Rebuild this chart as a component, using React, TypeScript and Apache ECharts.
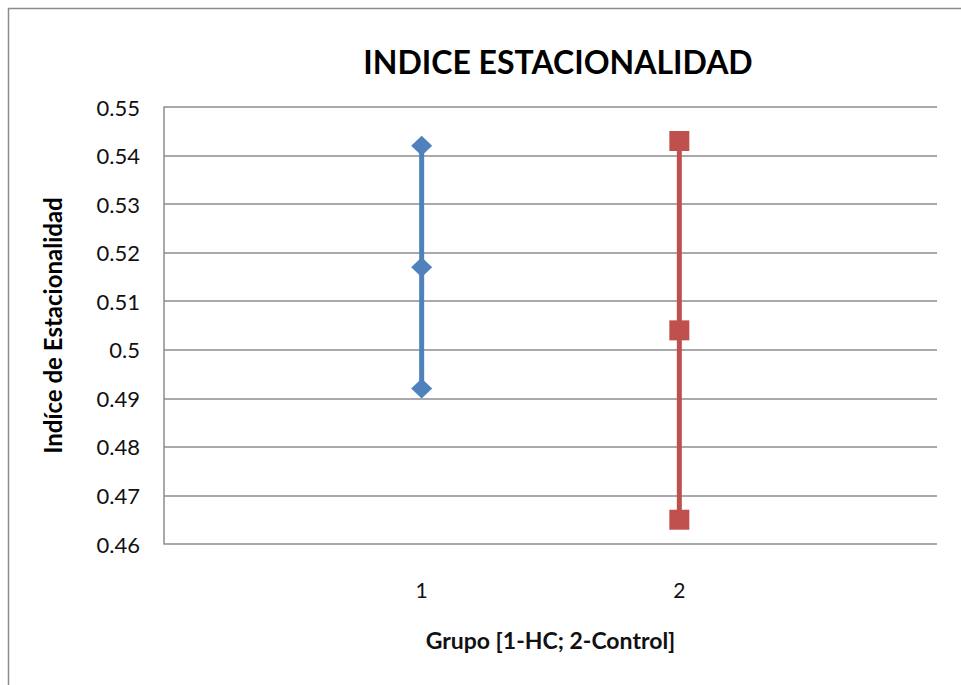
import React, { useEffect, useRef } from "react";
import * as echarts from "echarts";

const titleText = "INDICE ESTACIONALIDAD";
const xAxisName = "Grupo [1-HC; 2-Control]";
const yAxisName = "Indíce de Estacionalidad";
const groupHC = 1;
const groupControl = 2;
const hcValues = [0.542, 0.517, 0.492];
const controlValues = [0.543, 0.504, 0.465];
const xTickLabels = ["1", "2"];
const yMin = 0.46;
const yMax = 0.55;
const yStep = 0.01;

export default function App() {
  const ref = useRef<HTMLDivElement>(null);
  useEffect(() => {
    if (!ref.current) return;
    const chart = echarts.init(ref.current, null, { renderer: "svg" });
    const font = "Lato, 'DejaVu Sans', sans-serif";
    chart.setOption({
      animation: false,
      backgroundColor: "#ffffff",
      graphic: [
        {
          type: "rect",
          shape: { x: 8.5, y: 8.5, width: 1200, height: 1200 },
          style: { fill: "none", stroke: "#8c8c8c", lineWidth: 1.5 },
          silent: true,
        },
      ],
      title: {
        text: titleText,
        left: 553,
        textAlign: "center",
        top: 40,
        textStyle: { fontFamily: font, fontSize: 32, fontWeight: "bold", color: "#000" },
      },
      grid: { left: 164, top: 107, right: 24, bottom: 141 },
      xAxis: {
        type: "value",
        min: 0,
        max: 3,
        interval: 1,
        name: xAxisName,
        nameLocation: "middle",
        nameGap: 84,
        nameTextStyle: { fontFamily: font, fontSize: 23, fontWeight: "bold", color: "#111" },
        axisLine: { show: false },
        axisTick: { show: false },
        splitLine: { show: false },
        axisLabel: {
          margin: 35,
          fontFamily: font,
          fontSize: 21,
          color: "#111",
          formatter: (v: number) => {
            const i = [groupHC, groupControl].indexOf(v);
            return i >= 0 ? xTickLabels[i] : "";
          },
        },
      },
      yAxis: {
        type: "value",
        min: yMin,
        max: yMax,
        interval: yStep,
        name: yAxisName,
        nameLocation: "middle",
        nameGap: 100,
        nameTextStyle: { fontFamily: font, fontSize: 24, fontWeight: "bold", color: "#000" },
        axisLine: { show: true, lineStyle: { color: "#8c8c8c", width: 1.5 } },
        axisTick: { show: false },
        splitLine: { show: true, lineStyle: { color: "#8c8c8c", width: 1.5 } },
        axisLabel: {
          margin: 24,
          fontFamily: font,
          fontSize: 22,
          color: "#111",
          formatter: (v: number) => String(parseFloat(v.toFixed(2))),
        },
      },
      series: [
        {
          type: "line",
          data: hcValues.map((v) => [groupHC, v]),
          symbol: "diamond",
          symbolSize: [21, 20],
          lineStyle: { color: "#4F81BD", width: 5 },
          itemStyle: { color: "#4F81BD" },
        },
        {
          type: "line",
          data: controlValues.map((v) => [groupControl, v]),
          symbol: "rect",
          symbolSize: 20,
          lineStyle: { color: "#C0504D", width: 5 },
          itemStyle: { color: "#C0504D" },
        },
      ],
    });
    return () => chart.dispose();
  }, []);
  return (
    <div
      ref={ref}
      style={{ position: "fixed", left: 0, top: 0, width: 961, height: 685 }}
    />
  );
}
